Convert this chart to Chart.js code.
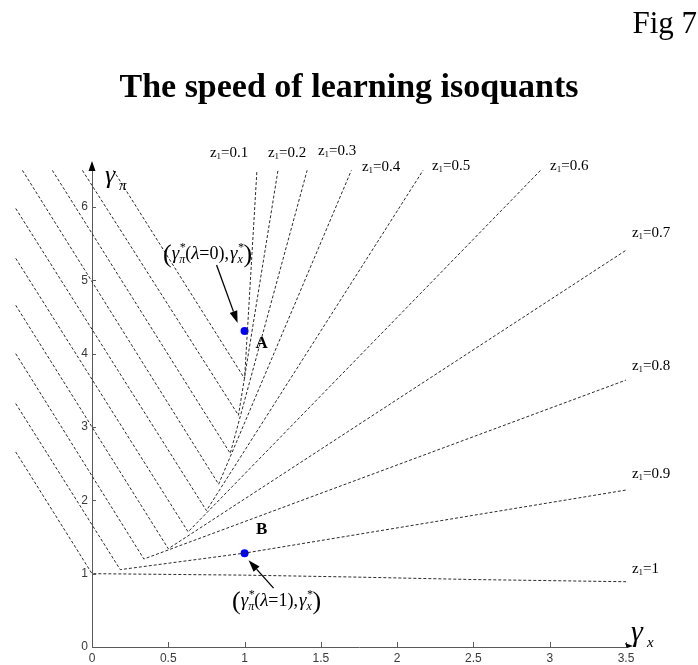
<!DOCTYPE html>
<html>
<head>
<meta charset="utf-8">
<title>The speed of learning isoquants</title>
<script src="https://cdn.jsdelivr.net/npm/chart.js@4/dist/chart.umd.min.js"></script>
<style>
  html, body { margin: 0; padding: 0; background: #ffffff; }
  #wrap { width: 698px; height: 665px; }
</style>
</head>
<body>
<div id="wrap"><canvas id="chart" width="698" height="665"></canvas></div>
<script>
// Isoquant levels of z1
const zLevels = ['0.1', '0.2', '0.3', '0.4', '0.5', '0.6', '0.7', '0.8', '0.9', '1'];

// Each isoquant: falling branch from the upper left, kink, rising branch [gamma_x, gamma_pi]
const iso01 = [[0.14, 6.5], [1.0, 3.66], [1.081, 6.5]];
const iso02 = [[-0.063, 6.5], [0.96, 3.16], [1.219, 6.5]];
const iso03 = [[-0.26, 6.5], [0.906, 2.64], [1.41, 6.5]];
const iso04 = [[-0.456, 6.5], [0.83, 2.22], [1.70, 6.5]];
const iso05 = [[-0.5, 5.98], [0.75, 1.86], [2.17, 6.5]];
const iso06 = [[-0.5, 5.30], [0.63, 1.57], [2.94, 6.5]];
const iso07 = [[-0.5, 4.66], [0.50, 1.34], [3.5, 5.41]];
const iso08 = [[-0.5, 4.00], [0.34, 1.20], [3.5, 3.64]];
const iso09 = [[-0.5, 3.32], [0.185, 1.055], [1.0, 1.28], [3.5, 2.14]];
const iso10 = [[-0.5, 2.66], [0, 1.0], [1.0, 0.98], [1.69, 0.955], [2.5, 0.92], [3.5, 0.89]];

// Optimal points for lambda = 0 (A) and lambda = 1 (B)
const pointA = [1.0, 4.31];
const pointB = [1.0, 1.28];

// Axis ticks
const xTicks = [0, 0.5, 1, 1.5, 2, 2.5, 3, 3.5];
const yTicks = [0, 1, 2, 3, 4, 5, 6];

const isoquants = [iso01, iso02, iso03, iso04, iso05, iso06, iso07, iso08, iso09, iso10];

const SERIF = '"Liberation Serif", "Times New Roman", serif';
const SANS = '"Liberation Sans", Arial, sans-serif';
const AXIS_COLOR = '#5a5a5a';
const LINE_COLOR = '#2a2a2a';

// Where each z1 label sits, in axis units (left edge, vertical centre)
const zLabelAt = [
  [0.773, 6.75], [1.153, 6.75], [1.481, 6.78], [1.769, 6.56], [2.228, 6.57],
  [3.002, 6.57], [3.539, 5.66], [3.539, 3.845], [3.539, 2.373], [3.539, 1.077]
];

const datasets = isoquants.map((pts, i) => ({
  label: 'z1=' + zLevels[i],
  data: pts.map(([x, y]) => ({ x, y })),
  showLine: true,
  borderColor: LINE_COLOR,
  borderWidth: 1,
  borderDash: [3, 2],
  pointRadius: 0,
  pointHoverRadius: 0,
  tension: 0,
  clip: false
}));
[pointA, pointB].forEach((p, i) => datasets.push({
  label: i === 0 ? 'A' : 'B',
  data: [{ x: p[0], y: p[1] }],
  showLine: false,
  pointRadius: 4,
  pointBackgroundColor: '#0000ff',
  pointBorderColor: '#0000ff',
  pointBorderWidth: 0,
  clip: false
}));

// Text runs with sub/superscripts, drawn from x on baseline y
function measureRuns(ctx, runs) {
  let w = 0;
  runs.forEach(r => {
    ctx.font = r.font;
    if (r.sub !== undefined || r.sup !== undefined) {
      const a = r.sub ? ctx.measureText(r.sub).width : 0;
      const b = r.sup ? ctx.measureText(r.sup).width : 0;
      w += Math.max(a, b) + (r.gap || 0);
    } else {
      w += ctx.measureText(r.t).width + (r.gap || 0);
    }
  });
  return w;
}
function drawRuns(ctx, runs, x, y) {
  ctx.textAlign = 'left';
  ctx.textBaseline = 'alphabetic';
  runs.forEach(r => {
    ctx.font = r.font;
    if (r.sub !== undefined || r.sup !== undefined) {
      const a = r.sub ? ctx.measureText(r.sub).width : 0;
      const b = r.sup ? ctx.measureText(r.sup).width : 0;
      if (r.sub) ctx.fillText(r.sub, x + (r.subDx || 0), y + (r.subDy || 4));
      if (r.sup) ctx.fillText(r.sup, x + (r.supDx || 0), y + (r.supDy || -8));
      x += Math.max(a, b) + (r.gap || 0);
    } else {
      ctx.fillText(r.t, x, y + (r.dy || 0));
      x += ctx.measureText(r.t).width + (r.gap || 0);
    }
  });
}
function optimumLabel(lam) {
  const it = 'italic 19px ' + SERIF;
  const rm = '18px ' + SERIF;
  const small = 'italic 12px ' + SERIF;
  const big = '26px ' + SERIF;
  return [
    { t: '(', font: big, dy: 3 },
    { t: 'γ', font: it },
    { sub: 'π', sup: '*', font: small, subDy: 4, supDy: -8 },
    { t: '(', font: rm },
    { t: 'λ', font: it },
    { t: '=', font: rm },
    { t: lam, font: rm },
    { t: ')', font: rm },
    { t: ',', font: rm, gap: 1 },
    { t: 'γ', font: it },
    { sub: 'x', sup: '*', font: small, subDy: 4, supDy: -8 },
    { t: ')', font: big, dy: 3 }
  ];
}
function arrow(ctx, x0, y0, x1, y1) {
  const ang = Math.atan2(y1 - y0, x1 - x0);
  const len = 12, half = 4;
  const bx = x1 - len * Math.cos(ang), by = y1 - len * Math.sin(ang);
  ctx.beginPath();
  ctx.moveTo(x0, y0);
  ctx.lineTo(bx, by);
  ctx.lineWidth = 1.3;
  ctx.strokeStyle = '#000';
  ctx.stroke();
  ctx.beginPath();
  ctx.moveTo(x1, y1);
  ctx.lineTo(bx + half * Math.sin(ang), by - half * Math.cos(ang));
  ctx.lineTo(bx - half * Math.sin(ang), by + half * Math.cos(ang));
  ctx.closePath();
  ctx.fillStyle = '#000';
  ctx.fill();
}

const decor = {
  id: 'decor',
  afterDraw(chart) {
    const { ctx, chartArea: ca, scales: { x, y } } = chart;
    ctx.save();

    // inward tick marks
    ctx.strokeStyle = AXIS_COLOR;
    ctx.lineWidth = 1;
    ctx.beginPath();
    yTicks.forEach(v => {
      const py = Math.round(y.getPixelForValue(v)) + 0.5;
      ctx.moveTo(ca.left, py);
      ctx.lineTo(ca.left + 4, py);
    });
    xTicks.forEach(v => {
      const px = Math.round(x.getPixelForValue(v)) + 0.5;
      ctx.moveTo(px, ca.bottom);
      ctx.lineTo(px, ca.bottom - 5);
    });
    ctx.stroke();

    // axis arrowheads
    ctx.fillStyle = '#000';
    const ax = x.getPixelForValue(0);
    ctx.beginPath();
    ctx.moveTo(ax, ca.top - 2);
    ctx.lineTo(ax - 3.5, ca.top + 8);
    ctx.lineTo(ax + 3.5, ca.top + 8);
    ctx.closePath();
    ctx.fill();
    const ay = y.getPixelForValue(0);
    ctx.beginPath();
    ctx.moveTo(ca.right + 7, ay - 1);
    ctx.lineTo(ca.right - 1, ay - 4);
    ctx.lineTo(ca.right + 1, ay + 1);
    ctx.closePath();
    ctx.fill();

    // axis names
    ctx.fillStyle = '#000';
    ctx.textAlign = 'left';
    ctx.textBaseline = 'alphabetic';
    ctx.font = 'italic 26px ' + SERIF;
    ctx.fillText('γ', ax + 13, ca.top + 20);
    ctx.font = 'italic 15px ' + SERIF;
    ctx.fillText('π', ax + 27, ca.top + 27);
    ctx.font = 'italic 30px ' + SERIF;
    ctx.fillText('γ', ca.right + 5, ay - 6);
    ctx.font = 'italic 15px ' + SERIF;
    ctx.fillText('x', ca.right + 21, ay);

    // title and figure number
    ctx.textAlign = 'center';
    ctx.font = 'bold 34px ' + SERIF;
    ctx.fillText('The speed of learning isoquants', 349, 97);
    ctx.textAlign = 'right';
    ctx.font = '31px ' + SERIF;
    ctx.fillText('Fig 7', 697, 33);

    // z1 labels
    zLevels.forEach((lv, i) => {
      const px = x.getPixelForValue(zLabelAt[i][0]);
      const py = y.getPixelForValue(zLabelAt[i][1]) + 5;
      drawRuns(ctx, [
        { t: 'z', font: '15px ' + SERIF },
        { t: '1', font: '9px ' + SERIF, dy: 2 },
        { t: '=' + lv, font: '15px ' + SERIF }
      ], px, py);
    });

    // point letters
    const pa = [x.getPixelForValue(pointA[0]), y.getPixelForValue(pointA[1])];
    const pb = [x.getPixelForValue(pointB[0]), y.getPixelForValue(pointB[1])];
    ctx.font = 'bold 17px ' + SERIF;
    ctx.textAlign = 'center';
    ctx.fillText('A', pa[0] + 17, pa[1] + 17);
    ctx.fillText('B', pb[0] + 17, pb[1] - 19);

    // callouts
    const runsA = optimumLabel('0');
    const wA = measureRuns(ctx, runsA);
    ctx.fillStyle = '#000';
    drawRuns(ctx, runsA, pa[0] - 37 - wA / 2, pa[1] - 72);
    arrow(ctx, pa[0] - 28, pa[1] - 66, pa[0] - 7, pa[1] - 8);

    const runsB = optimumLabel('1');
    const wB = measureRuns(ctx, runsB);
    drawRuns(ctx, runsB, pb[0] + 32 - wB / 2, pb[1] + 53);
    arrow(ctx, pb[0] + 29, pb[1] + 35, pb[0] + 4, pb[1] + 7);

    ctx.restore();
  }
};

const tickFmt = v => String(Math.round(v * 10) / 10);

new Chart(document.getElementById('chart'), {
  type: 'scatter',
  data: { datasets },
  options: {
    responsive: false,
    animation: false,
    events: [],
    layout: { padding: { top: 163, right: 72, bottom: 0, left: 0 } },
    plugins: { legend: { display: false }, tooltip: { enabled: false } },
    scales: {
      x: {
        type: 'linear',
        min: 0,
        max: 3.5,
        afterBuildTicks: s => { s.ticks = xTicks.map(v => ({ value: v })); },
        afterFit: s => { s.height = 18; },
        grid: { display: false, drawTicks: false, tickLength: 0 },
        border: { display: true, color: AXIS_COLOR, width: 1 },
        ticks: { padding: 4, color: '#3a3a3a', font: { family: SANS, size: 12 }, callback: tickFmt }
      },
      y: {
        type: 'linear',
        min: 0,
        max: 6.6,
        afterBuildTicks: s => { s.ticks = yTicks.map(v => ({ value: v })); },
        afterFit: s => { s.width = 92; },
        grid: { display: false, drawTicks: false, tickLength: 0 },
        border: { display: true, color: AXIS_COLOR, width: 1 },
        ticks: { padding: 4, color: '#3a3a3a', font: { family: SANS, size: 12 }, callback: tickFmt }
      }
    }
  },
  plugins: [decor]
});
</script>
</body>
</html>
